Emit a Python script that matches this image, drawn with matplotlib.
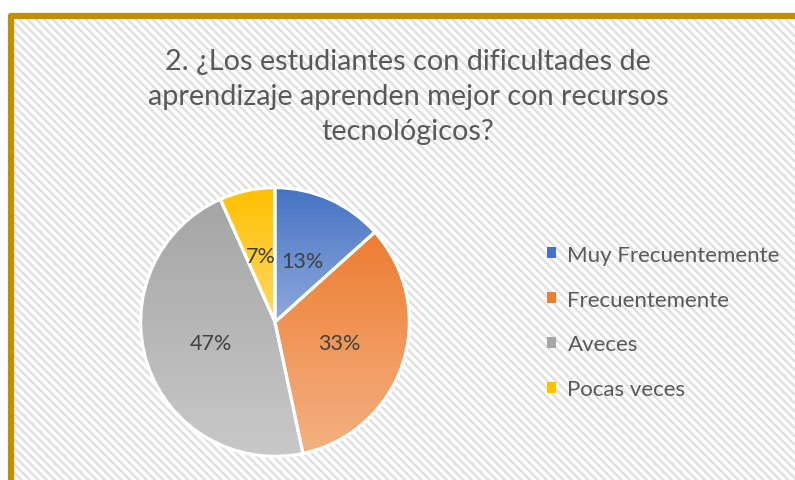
import matplotlib.pyplot as plt
import numpy as np
from matplotlib.patches import Rectangle, Patch
from matplotlib.colors import LinearSegmentedColormap

# datos de la encuesta (15 respuestas)
categorias = ["Muy Frecuentemente", "Frecuentemente", "Aveces", "Pocas veces"]
respuestas = [2, 5, 7, 1]
colores_top = ["#4472C4", "#ED7D31", "#A5A5A5", "#FFC000"]
colores_bottom = ["#8FAADC", "#F4B183", "#C9C9C9", "#FFD966"]
titulo = "2. ¿Los estudiantes con dificultades de\naprendizaje aprenden mejor con recursos\ntecnológicos?"

plt.rcParams["font.family"] = ["Lato", "DejaVu Sans"]
plt.rcParams["hatch.linewidth"] = 1.7

W, H = 795, 481
fig = plt.figure(figsize=(W / 100, H / 100), dpi=100)

# fondo rayado + borde dorado
bg = fig.add_axes([0, 0, 1, 1])
bg.set_xlim(0, W)
bg.set_ylim(H, 0)
bg.axis("off")
bg.add_patch(Rectangle((11, 17), W, H, facecolor="white", edgecolor="#e0e0e0",
                       lw=0, hatch="\\\\\\\\"))
bg.plot([10.5, 10.5, W], [H, 16.5, 16.5], color="#BF9000", lw=4.5, solid_capstyle="butt")

fig.text(408 / W, 1 - 97 / H, titulo, ha="center", va="center", fontsize=20.8,
         color="#595959", linespacing=1.45)

# pastel
cx, cy, r = 275, 323, 137
ax = fig.add_axes([(cx - r) / W, (H - cy - r) / H, 2 * r / W, 2 * r / H])
wedges, textos, pct = ax.pie(respuestas, startangle=90, counterclock=False,
                            colors=colores_top, autopct=lambda p: f"{p:.0f}%",
                            pctdistance=0.5,
                            wedgeprops=dict(edgecolor="white", linewidth=2.2),
                            textprops=dict(fontsize=15.5, color="#404040"))

# degradado vertical dentro de cada sector
grad = np.linspace(0, 1, 256).reshape(-1, 1)
for w, c1, c2 in zip(wedges, colores_top, colores_bottom):
    verts = w.get_path().vertices * w.r + np.array(w.center)
    x0, x1 = verts[:, 0].min(), verts[:, 0].max()
    y0, y1 = verts[:, 1].min(), verts[:, 1].max()
    cmap = LinearSegmentedColormap.from_list("g", [c1, c2])
    im = ax.imshow(grad, cmap=cmap, extent=[x0, x1, y0, y1], aspect="auto", zorder=1.5)
    im.set_clip_path(w)
    w.set_facecolor("none")
    w.set_zorder(2)
for t in pct:
    t.set_zorder(3)
ax.set_xlim(-1.02, 1.02)
ax.set_ylim(-1.02, 1.02)
ax.axis("off")

handles = [Patch(facecolor=c, edgecolor="none") for c in colores_top]
fig.legend(handles, categorias, loc="center left", bbox_to_anchor=(527 / W, 1 - 323 / H),
           frameon=False, fontsize=16, labelcolor="#595959", handlelength=0.42,
           handleheight=0.42, handletextpad=0.5, labelspacing=1.12)

fig.savefig("out.png", dpi=100)
